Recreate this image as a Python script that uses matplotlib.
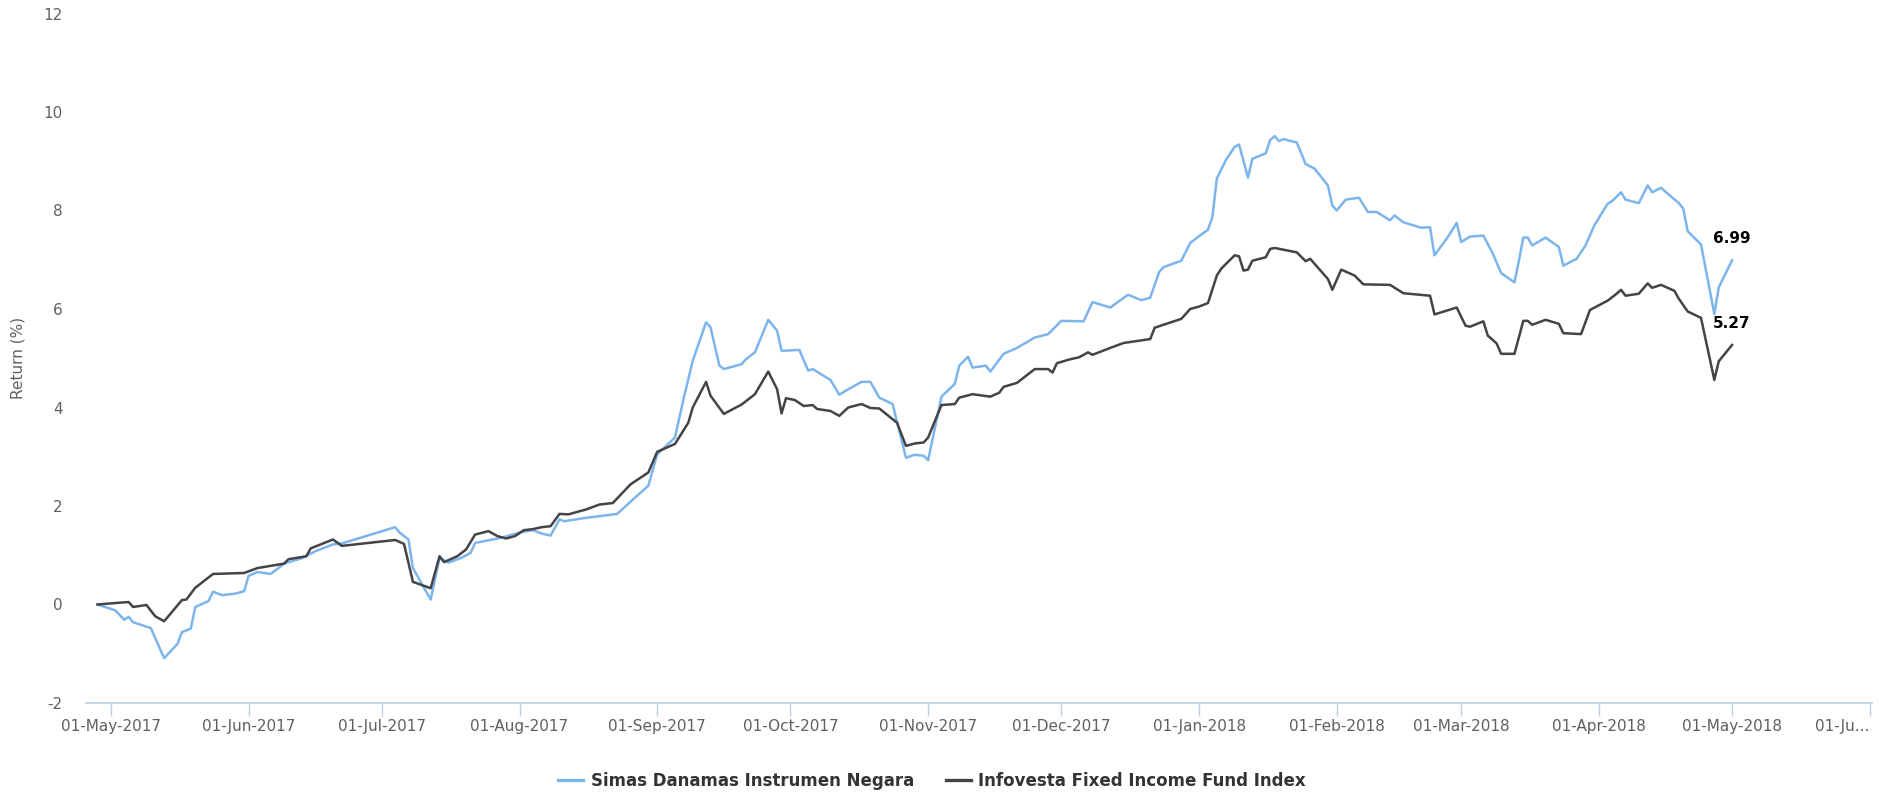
import pandas as pd
import matplotlib
matplotlib.use('Agg')
import matplotlib.pyplot as plt
import matplotlib.dates as mdates

plt.rcParams['axes.unicode_minus'] = False

# Cumulative return (%) - fund vs benchmark
fund_name = 'Simas Danamas Instrumen Negara'
fund_dates = [
    '2017-04-28', '2017-05-02', '2017-05-04', '2017-05-05', '2017-05-06', '2017-05-10',
    '2017-05-13', '2017-05-16', '2017-05-17', '2017-05-19', '2017-05-20', '2017-05-23',
    '2017-05-24', '2017-05-26', '2017-05-29', '2017-05-31', '2017-06-01', '2017-06-03',
    '2017-06-06', '2017-06-09', '2017-06-13', '2017-06-16', '2017-06-20', '2017-06-22',
    '2017-07-04', '2017-07-05', '2017-07-07', '2017-07-08', '2017-07-12', '2017-07-14',
    '2017-07-16', '2017-07-19', '2017-07-21', '2017-07-22', '2017-07-26', '2017-07-28',
    '2017-08-01', '2017-08-04', '2017-08-06', '2017-08-08', '2017-08-10', '2017-08-11',
    '2017-08-16', '2017-08-23', '2017-08-27', '2017-08-30', '2017-09-01', '2017-09-05',
    '2017-09-07', '2017-09-09', '2017-09-12', '2017-09-13', '2017-09-15', '2017-09-16',
    '2017-09-20', '2017-09-21', '2017-09-23', '2017-09-26', '2017-09-28', '2017-09-29',
    '2017-10-03', '2017-10-05', '2017-10-06', '2017-10-10', '2017-10-12', '2017-10-14',
    '2017-10-17', '2017-10-19', '2017-10-21', '2017-10-24', '2017-10-27', '2017-10-29',
    '2017-10-31', '2017-11-01', '2017-11-04', '2017-11-07', '2017-11-08', '2017-11-10',
    '2017-11-11', '2017-11-14', '2017-11-15', '2017-11-18', '2017-11-21', '2017-11-25',
    '2017-11-28', '2017-12-01', '2017-12-06', '2017-12-08', '2017-12-12', '2017-12-16',
    '2017-12-19', '2017-12-21', '2017-12-23', '2017-12-24', '2017-12-28', '2017-12-30',
    '2018-01-01', '2018-01-03', '2018-01-04', '2018-01-05', '2018-01-07', '2018-01-09',
    '2018-01-10', '2018-01-12', '2018-01-13', '2018-01-16', '2018-01-17', '2018-01-18',
    '2018-01-19', '2018-01-20', '2018-01-23', '2018-01-25', '2018-01-27', '2018-01-30',
    '2018-01-31', '2018-02-01', '2018-02-03', '2018-02-06', '2018-02-08', '2018-02-10',
    '2018-02-13', '2018-02-14', '2018-02-16', '2018-02-20', '2018-02-22', '2018-02-23',
    '2018-02-26', '2018-02-28', '2018-03-01', '2018-03-03', '2018-03-06', '2018-03-08',
    '2018-03-10', '2018-03-13', '2018-03-14', '2018-03-15', '2018-03-16', '2018-03-17',
    '2018-03-20', '2018-03-23', '2018-03-24', '2018-03-27', '2018-03-29', '2018-03-31',
    '2018-04-03', '2018-04-04', '2018-04-06', '2018-04-07', '2018-04-10', '2018-04-12',
    '2018-04-13', '2018-04-15', '2018-04-19', '2018-04-20', '2018-04-21', '2018-04-24',
    '2018-04-27', '2018-04-28', '2018-05-01',
]
fund_returns = [
    0.00, -0.12, -0.31, -0.25, -0.36, -0.48,
    -1.09, -0.80, -0.56, -0.49, -0.05, 0.07,
    0.26, 0.19, 0.22, 0.27, 0.58, 0.66,
    0.62, 0.83, 0.94, 1.08, 1.22, 1.24,
    1.57, 1.46, 1.32, 0.74, 0.10, 0.95,
    0.85, 0.95, 1.05, 1.25, 1.32, 1.36,
    1.46, 1.51, 1.44, 1.40, 1.73, 1.69,
    1.76, 1.84, 2.17, 2.41, 3.05, 3.39,
    4.20, 4.95, 5.73, 5.63, 4.85, 4.78,
    4.88, 4.98, 5.12, 5.78, 5.56, 5.15,
    5.17, 4.75, 4.78, 4.56, 4.26, 4.37,
    4.52, 4.52, 4.20, 4.07, 2.98, 3.04,
    3.02, 2.93, 4.22, 4.48, 4.85, 5.03,
    4.81, 4.85, 4.73, 5.09, 5.21, 5.42,
    5.49, 5.76, 5.75, 6.14, 6.03, 6.29,
    6.18, 6.23, 6.75, 6.85, 6.98, 7.34,
    7.48, 7.61, 7.87, 8.65, 9.02, 9.29,
    9.34, 8.67, 9.05, 9.16, 9.43, 9.51,
    9.41, 9.45, 9.38, 8.94, 8.85, 8.51,
    8.10, 8.00, 8.22, 8.26, 7.97, 7.97,
    7.80, 7.90, 7.76, 7.65, 7.66, 7.09,
    7.46, 7.75, 7.36, 7.47, 7.49, 7.15,
    6.73, 6.54, 6.98, 7.45, 7.45, 7.29,
    7.45, 7.26, 6.88, 7.02, 7.29, 7.70,
    8.14, 8.19, 8.37, 8.22, 8.15, 8.51,
    8.37, 8.46, 8.15, 8.04, 7.58, 7.31,
    5.90, 6.44, 6.99,
]

index_name = 'Infovesta Fixed Income Fund Index'
index_dates = [
    '2017-04-28', '2017-05-02', '2017-05-05', '2017-05-06', '2017-05-09', '2017-05-11',
    '2017-05-13', '2017-05-17', '2017-05-18', '2017-05-20', '2017-05-24', '2017-05-31',
    '2017-06-03', '2017-06-09', '2017-06-10', '2017-06-14', '2017-06-15', '2017-06-20',
    '2017-06-22', '2017-07-04', '2017-07-06', '2017-07-08', '2017-07-12', '2017-07-14',
    '2017-07-15', '2017-07-18', '2017-07-20', '2017-07-22', '2017-07-25', '2017-07-27',
    '2017-07-29', '2017-07-31', '2017-08-02', '2017-08-04', '2017-08-06', '2017-08-08',
    '2017-08-10', '2017-08-12', '2017-08-16', '2017-08-19', '2017-08-22', '2017-08-26',
    '2017-08-30', '2017-09-01', '2017-09-05', '2017-09-08', '2017-09-09', '2017-09-12',
    '2017-09-13', '2017-09-16', '2017-09-20', '2017-09-23', '2017-09-26', '2017-09-28',
    '2017-09-29', '2017-09-30', '2017-10-02', '2017-10-04', '2017-10-06', '2017-10-07',
    '2017-10-10', '2017-10-12', '2017-10-14', '2017-10-17', '2017-10-19', '2017-10-21',
    '2017-10-25', '2017-10-27', '2017-10-29', '2017-10-31', '2017-11-01', '2017-11-04',
    '2017-11-07', '2017-11-08', '2017-11-11', '2017-11-15', '2017-11-17', '2017-11-18',
    '2017-11-21', '2017-11-23', '2017-11-25', '2017-11-28', '2017-11-29', '2017-11-30',
    '2017-12-03', '2017-12-05', '2017-12-07', '2017-12-08', '2017-12-12', '2017-12-15',
    '2017-12-21', '2017-12-22', '2017-12-28', '2017-12-30', '2018-01-01', '2018-01-03',
    '2018-01-05', '2018-01-06', '2018-01-09', '2018-01-10', '2018-01-11', '2018-01-12',
    '2018-01-13', '2018-01-16', '2018-01-17', '2018-01-18', '2018-01-23', '2018-01-25',
    '2018-01-26', '2018-01-30', '2018-01-31', '2018-02-02', '2018-02-05', '2018-02-07',
    '2018-02-13', '2018-02-16', '2018-02-22', '2018-02-23', '2018-02-28', '2018-03-02',
    '2018-03-03', '2018-03-06', '2018-03-07', '2018-03-09', '2018-03-10', '2018-03-13',
    '2018-03-15', '2018-03-16', '2018-03-17', '2018-03-20', '2018-03-23', '2018-03-24',
    '2018-03-28', '2018-03-30', '2018-04-03', '2018-04-05', '2018-04-06', '2018-04-07',
    '2018-04-10', '2018-04-12', '2018-04-13', '2018-04-15', '2018-04-18', '2018-04-19',
    '2018-04-21', '2018-04-24', '2018-04-27', '2018-04-28', '2018-05-01',
]
index_returns = [
    0.00, 0.03, 0.05, -0.05, -0.01, -0.24,
    -0.34, 0.09, 0.10, 0.34, 0.62, 0.64,
    0.74, 0.83, 0.92, 0.98, 1.14, 1.32,
    1.19, 1.31, 1.23, 0.46, 0.33, 0.98,
    0.86, 0.98, 1.12, 1.42, 1.49, 1.39,
    1.34, 1.39, 1.51, 1.53, 1.57, 1.59,
    1.84, 1.83, 1.93, 2.03, 2.06, 2.44,
    2.68, 3.10, 3.26, 3.69, 4.00, 4.52,
    4.24, 3.87, 4.06, 4.27, 4.73, 4.37,
    3.88, 4.19, 4.15, 4.03, 4.05, 3.97,
    3.93, 3.83, 4.00, 4.07, 3.99, 3.98,
    3.69, 3.22, 3.27, 3.29, 3.39, 4.05,
    4.07, 4.20, 4.27, 4.22, 4.30, 4.42,
    4.50, 4.64, 4.78, 4.78, 4.71, 4.90,
    4.98, 5.02, 5.12, 5.07, 5.21, 5.31,
    5.39, 5.62, 5.80, 6.00, 6.05, 6.12,
    6.68, 6.82, 7.09, 7.07, 6.78, 6.80,
    6.98, 7.05, 7.22, 7.24, 7.15, 6.97,
    7.02, 6.61, 6.39, 6.80, 6.68, 6.50,
    6.49, 6.32, 6.27, 5.89, 6.03, 5.66,
    5.64, 5.75, 5.46, 5.30, 5.09, 5.09,
    5.76, 5.76, 5.68, 5.78, 5.70, 5.51,
    5.49, 5.98, 6.17, 6.31, 6.39, 6.27,
    6.31, 6.52, 6.43, 6.49, 6.37, 6.21,
    5.95, 5.82, 4.56, 4.94, 5.27,
]

y_ticks = [-2, 0, 2, 4, 6, 8, 10, 12]

fund_color = '#7cb5ec'
index_color = '#434348'
label_color = '#606060'
axis_color = '#c0d0e0'

fund_x = pd.to_datetime(fund_dates)
index_x = pd.to_datetime(index_dates)

fig = plt.figure(figsize=(18.79, 7.93), dpi=100)
ax = fig.add_axes([86 / 1879, 1 - 703 / 793, (1872 - 86) / 1879, (703 - 13.5) / 793])

ax.plot(fund_x, fund_returns, color=fund_color, lw=1.8, label=fund_name, solid_joinstyle='round')
ax.plot(index_x, index_returns, color=index_color, lw=1.8, label=index_name, solid_joinstyle='round')

# value labels on the last point of each series
for xs, ys in [(fund_x, fund_returns), (index_x, index_returns)]:
    ax.annotate(f'{ys[-1]:.2f}', xy=(xs[-1], ys[-1]), xytext=(0, 15.5),
                textcoords='offset points', ha='center', va='center',
                fontsize=11, fontweight='bold', color='#000000')

# x axis: monthly ticks, last one clipped like a long label
month_ticks = pd.date_range('2017-05-01', '2018-06-01', freq='MS')
month_labels = [d.strftime('%d-%b-%Y') for d in month_ticks]
month_labels[-1] = '01-Ju...'
ax.set_xticks(month_ticks)
ax.set_xticklabels(month_labels)
ax.set_xlim(mdates.date2num(pd.Timestamp('2017-05-01')) - 5.6,
            mdates.date2num(pd.Timestamp('2018-06-01')) + 0.5)

ax.set_ylim(-2, 12)
ax.set_yticks(y_ticks)

for side in ['top', 'right', 'left']:
    ax.spines[side].set_visible(False)
ax.spines['bottom'].set_color(axis_color)
ax.spines['bottom'].set_linewidth(1.2)

ax.tick_params(axis='x', length=9.5, width=1, color=axis_color, pad=2,
               labelsize=11, labelcolor=label_color)
ax.tick_params(axis='y', length=0, pad=17, labelsize=11, labelcolor=label_color)

# keep the clipped last label inside the chart edge
ax.get_xticklabels()[-1].set_horizontalalignment('right')

fig.text(18.5 / 1879, 1 - 358 / 793, 'Return (%)', rotation=90, ha='center', va='center',
         fontsize=11, color=label_color)

fig.legend(loc='center', bbox_to_anchor=(932 / 1879, 1 - 781 / 793), ncol=2, frameon=False,
           prop={'size': 12, 'weight': 'bold'}, labelcolor='#333333',
           handlelength=1.5, handletextpad=0.45, columnspacing=1.9)
for line in fig.legends[0].get_lines():
    line.set_linewidth(2.4)

fig.savefig('out.png', dpi=100)
